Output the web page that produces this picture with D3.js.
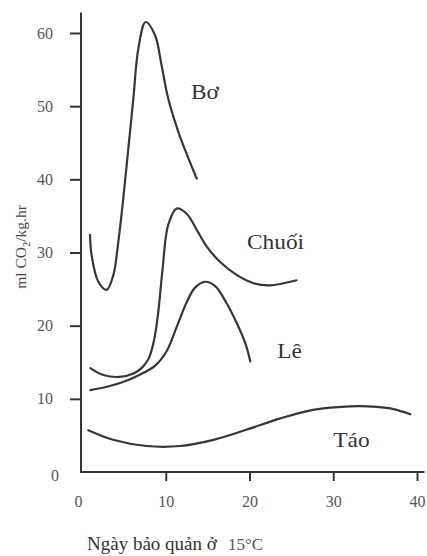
<!DOCTYPE html>
<html>
<head>
<meta charset="utf-8">
<script src="https://cdn.jsdelivr.net/npm/d3@7"></script>
<style>
  body { margin: 0; background: #fff; }
  svg { display: block; font-family: "Liberation Serif", "DejaVu Serif", serif; }
</style>
</head>
<body>
<script>
// values (days, ml CO2/kg.hr)
const boDays    = [0.96, 1.15, 1.95, 2.94, 3.74, 4.34, 4.93, 5.53, 6.13, 6.73, 7.6, 8.72, 9.5, 10.3, 11.5, 12.7, 13.7];
const boVals    = [32.4, 29.6, 26.0, 24.9, 26.9, 31.5, 37.4, 44.2, 51.0, 57.9, 61.5, 59.7, 55.6, 51.0, 46.5, 42.9, 40.1];
const chuoiDays = [1.0, 2.55, 4.5, 6.2, 7.2, 8.0, 8.6, 9.1, 9.6, 10.3, 11.3, 12.5, 13.7, 14.9, 16.5, 18.5, 20.5, 22.4, 25.6];
const chuoiVals = [14.2, 13.25, 13.0, 13.5, 14.3, 15.6, 18.0, 21.8, 27.5, 33.8, 36, 35.3, 33.1, 30.8, 28.7, 26.9, 25.8, 25.5, 26.2];
const leDays    = [1.0, 3.0, 4.9, 6.9, 8.7, 10.1, 11.3, 12.5, 13.5, 14.7, 15.9, 17.3, 18.5, 19.5, 20.1];
const leVals    = [11.2, 11.65, 12.3, 13.3, 14.5, 16.5, 19.8, 23.2, 25.2, 26.0, 25.4, 23.0, 20.3, 17.6, 15.1];
const taoDays   = [0.75, 3.7, 7.7, 11.7, 15.7, 19.7, 23.6, 27.6, 31, 33, 35.2, 37.2, 39.2];
const taoVals   = [5.7, 4.4, 3.55, 3.55, 4.4, 5.8, 7.3, 8.5, 8.9, 9.0, 8.9, 8.6, 7.9];

const seriesNames = ["Bơ", "Chuối", "Lê", "Táo"];
const xTicks = [0, 10, 20, 30, 40];
const yTicks = [0, 10, 20, 30, 40, 50, 60];

// where each curve name sits, in data units (day, rate)
const labelDay  = [13.0, 19.7, 23.3, 30.0];
const labelRate = [51.0, 30.5, 15.6, 3.4];

const width = 427, height = 556;
const ink = "#363636";

const svg = d3.select("body").append("svg")
  .attr("width", width)
  .attr("height", height);

const x = d3.scaleLinear().domain([0, 40]).range([82, 417]);
const y = d3.scaleLinear().domain([0, 60]).range([472, 33]);

// axis lines, longer than the tick range like the original
svg.append("line")
  .attr("x1", x(0) - 1).attr("x2", x(0) - 1)
  .attr("y1", y(62.8)).attr("y2", y(0) + 1)
  .attr("stroke", ink).attr("stroke-width", 2);
svg.append("line")
  .attr("x1", x(0) - 2).attr("x2", x(40.9))
  .attr("y1", y(0)).attr("y2", y(0))
  .attr("stroke", ink).attr("stroke-width", 2);

// y axis
const yAxis = svg.append("g")
  .attr("transform", `translate(${x(0) - 1},0)`)
  .call(d3.axisLeft(y).tickValues(yTicks).tickSize(11).tickPadding(17));
yAxis.select(".domain").remove();
yAxis.selectAll(".tick line").attr("stroke", ink).attr("stroke-width", 2)
  .filter(d => d === 0).remove();
yAxis.selectAll(".tick text")
  .attr("fill", "#555").attr("font-size", 16)
  .attr("font-family", "Liberation Serif")
  .filter(d => d === 0).attr("x", -22).attr("dy", "0.55em");

// x axis
const xAxis = svg.append("g")
  .attr("transform", `translate(0,${y(0)})`)
  .call(d3.axisBottom(x).tickValues(xTicks).tickSize(9).tickPadding(15));
xAxis.select(".domain").remove();
xAxis.selectAll(".tick line").attr("stroke", ink).attr("stroke-width", 2)
  .filter(d => d === 0).remove();
xAxis.selectAll(".tick text")
  .attr("fill", "#555").attr("font-size", 16)
  .attr("font-family", "Liberation Serif")
  .filter(d => d === 0).attr("x", -4);

// curves
const line = d3.line()
  .x(d => x(d[0]))
  .y(d => y(d[1]))
  .curve(d3.curveCatmullRom.alpha(0.5));

const curves = [
  d3.zip(boDays, boVals),
  d3.zip(chuoiDays, chuoiVals),
  d3.zip(leDays, leVals),
  d3.zip(taoDays, taoVals)
];

svg.selectAll(".curve").data(curves).enter()
  .append("path")
  .attr("class", "curve")
  .attr("d", line)
  .attr("fill", "none")
  .attr("stroke", ink)
  .attr("stroke-width", 2.2)
  .attr("stroke-linecap", "round");

// the scan's lettering is a little wide, so stretch names horizontally
svg.selectAll(".name").data(seriesNames).enter()
  .append("text")
  .attr("class", "name")
  .attr("transform", (d, i) => `translate(${x(labelDay[i])},${y(labelRate[i])}) scale(1.14,1)`)
  .attr("font-size", 20.5)
  .attr("fill", "#333")
  .text(d => d);

// axis titles
const yTitle = svg.append("text")
  .attr("transform", `translate(26,247) rotate(-90)`)
  .attr("text-anchor", "middle")
  .attr("font-size", 15.5)
  .attr("fill", "#444");
yTitle.append("tspan").text("ml CO");
yTitle.append("tspan").attr("font-size", 10.5).attr("dy", 4).text("2");
yTitle.append("tspan").attr("dy", -4).text("/kg.hr");

const xTitle = svg.append("text")
  .attr("x", 87)
  .attr("y", 550)
  .attr("fill", "#333")
  .attr("font-size", 19);
xTitle.append("tspan").text("Ngày bảo quản ở");
xTitle.append("tspan").attr("x", 228).attr("font-size", 17).attr("fill", "#555").text("15°C");
</script>
</body>
</html>
